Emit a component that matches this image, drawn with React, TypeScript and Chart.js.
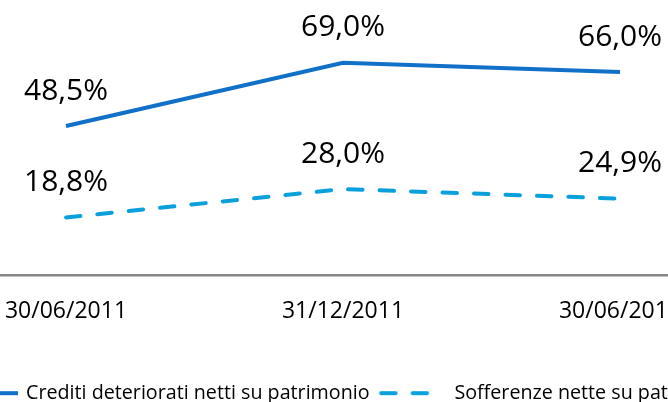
import React, { useEffect, useRef } from "react";
import { Chart, registerables } from "chart.js";

Chart.register(...registerables);

const categories = ["30/06/2011", "31/12/2011", "30/06/2012"];
const creditiDeteriorati = [48.5, 69.0, 66.0];
const sofferenzeNette = [18.8, 28.0, 24.9];
const seriesLabels = [
  "Crediti deteriorati netti su patrimonio",
  "Sofferenze nette su patrimonio",
];
const seriesColors = ["#1170C8", "#0AA0DC"];

const FONT = "'Open Sans', 'Noto Sans', sans-serif";

const dataLabelPlugin = {
  id: "dataLabelPlugin",
  afterDatasetsDraw(chart: any) {
    const ctx = chart.ctx;
    ctx.save();
    ctx.font = `30px ${FONT}`;
    ctx.fillStyle = "#000000";
    ctx.textAlign = "center";
    ctx.textBaseline = "middle";
    chart.data.datasets.forEach((ds: any, i: number) => {
      const meta = chart.getDatasetMeta(i);
      meta.data.forEach((pt: any, j: number) => {
        const v = ds.data[j] as number;
        const txt = v.toFixed(1).replace(".", ",") + "%";
        ctx.fillText(txt, pt.x, pt.y - 35);
      });
    });
    ctx.restore();
  },
};

const legendShiftPlugin = {
  id: "legendShift",
  afterLayout(chart: any) {
    if (chart.legend) {
      chart.legend.left += 2.5;
      chart.legend.right += 2.5;
    }
  },
};

function makeSample(color: string, dashed: boolean): HTMLCanvasElement {
  const c = document.createElement("canvas");
  c.width = 69;
  c.height = 8;
  const g = c.getContext("2d")!;
  g.strokeStyle = color;
  g.lineWidth = 4;
  g.beginPath();
  if (dashed) {
    g.lineCap = "round";
    g.setLineDash([14.5, 17]);
    g.lineDashOffset = -3.5;
    g.moveTo(0, 4);
    g.lineTo(58, 4);
  } else {
    g.lineCap = "butt";
    g.moveTo(0, 4);
    g.lineTo(69, 4);
  }
  g.stroke();
  return c;
}

export default function App() {
  const canvasRef = useRef<HTMLCanvasElement | null>(null);

  useEffect(() => {
    if (!canvasRef.current) return;
    const samples = [
      makeSample(seriesColors[0], false),
      makeSample(seriesColors[1], true),
    ];
    const chart = new Chart(canvasRef.current, {
      type: "line",
      data: {
        labels: categories,
        datasets: [
          {
            label: seriesLabels[0],
            data: creditiDeteriorati,
            borderColor: seriesColors[0],
            backgroundColor: seriesColors[0],
            borderWidth: 4,
            pointRadius: 0,
            tension: 0,
            borderCapStyle: "butt",
          },
          {
            label: seriesLabels[1],
            data: sofferenzeNette,
            borderColor: seriesColors[1],
            backgroundColor: seriesColors[1],
            borderWidth: 4,
            pointRadius: 0,
            tension: 0,
            borderDash: [14.5, 17],
            borderCapStyle: "round",
          },
        ],
      },
      options: {
        responsive: false,
        animation: false,
        devicePixelRatio: 1,
        layout: { padding: { left: 27.5, right: 27.5, top: 29, bottom: 0 } },
        scales: {
          x: {
            type: "category",
            offset: true,
            grid: { display: false, drawTicks: false },
            border: { display: true, color: "#868686", width: 2.5 },
            ticks: {
              font: { family: FONT, size: 23 },
              color: "#000000",
              padding: 22,
              maxRotation: 0,
              autoSkip: false,
            },
            afterFit: (scale: any) => {
              scale.height = 98;
            },
          },
          y: {
            display: false,
            min: 0,
            max: 80,
          },
        },
        plugins: {
          tooltip: { enabled: false },
          legend: {
            display: true,
            position: "bottom",
            labels: {
              usePointStyle: true,
              pointStyleWidth: 65,
              boxHeight: 20,
              padding: 10,
              color: "#000000",
              font: { family: FONT, size: 19.7 },
              generateLabels: (c: any) =>
                Chart.defaults.plugins.legend.labels
                  .generateLabels(c)
                  .map((it: any, i: number) => ({
                    ...it,
                    pointStyle: samples[i],
                  })),
            },
          },
        },
      },
      plugins: [dataLabelPlugin, legendShiftPlugin],
    });
    return () => chart.destroy();
  }, []);

  return (
    <div
      style={{
        position: "fixed",
        left: 0,
        top: 0,
        width: 668,
        height: 402,
        overflow: "hidden",
        background: "#ffffff",
      }}
    >
      <canvas
        ref={canvasRef}
        width={886}
        height={413}
        style={{ position: "absolute", left: -100, top: 0, width: 886, height: 413 }}
      />
    </div>
  );
}
